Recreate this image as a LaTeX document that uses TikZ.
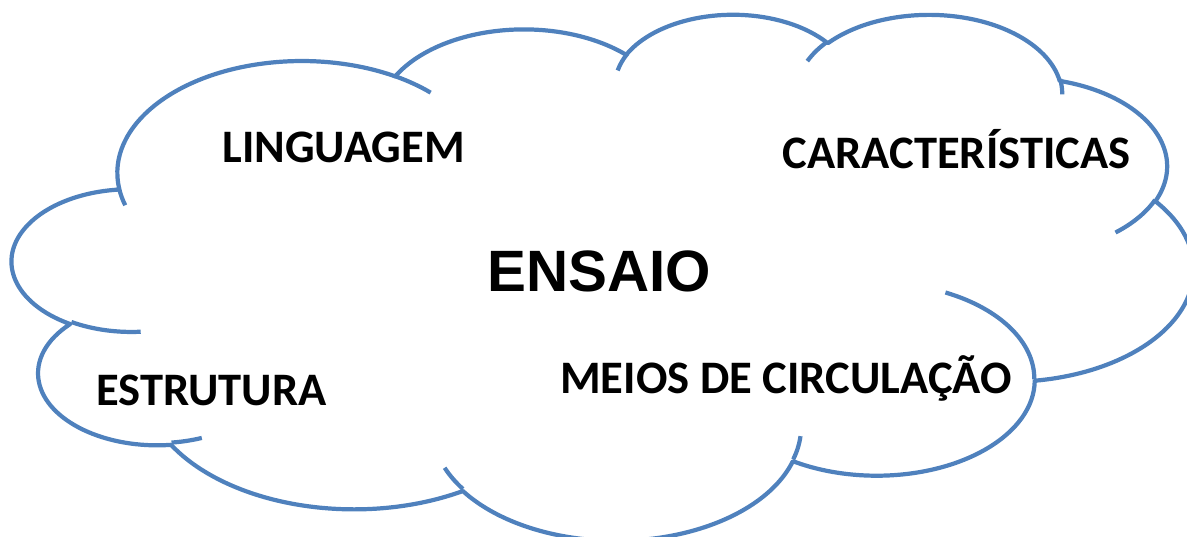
\documentclass[tikz,border=0pt]{standalone}
\usepackage{fontspec}
\newfontfamily\topicfont{Carlito}
\newfontfamily\titlefont{Liberation Sans}
\definecolor{cloudblue}{HTML}{4F81BD}

% one elliptic arc of the cloud outline: {x radius}{y radius}{start}{sweep},
% radii in the 43200 grid of the shape, angles measured as seen on the grid
\tikzset{
  cloud arc/.code n args={4}{%
    \pgfmathsetmacro\cloudta{atan2(#1*sin(#3),#2*cos(#3))}%
    \pgfmathsetmacro\cloudta{\cloudta+360*round(((#3)-(\cloudta))/360)}%
    \pgfmathsetmacro\cloudtb{atan2(#1*sin(#3+#4),#2*cos(#3+#4))}%
    \pgfmathsetmacro\cloudtb{\cloudtb+360*round(((#3+#4)-(\cloudtb))/360)}%
    \pgfmathsetmacro\cloudsa{-(\cloudta)}%
    \pgfmathsetmacro\cloudea{-(\cloudtb)}%
    \pgfmathsetmacro\cloudrx{#1/1828.96}%
    \pgfmathsetmacro\cloudry{#2/4106.46}%
    \tikzset{start angle=\cloudsa, end angle=\cloudea,
      x radius=\cloudrx cm, y radius=\cloudry cm}%
  }
}

\begin{document}
\begin{tikzpicture}[
    x=0.02cm, y=-0.02cm,
    cloud_line/.style={draw=cloudblue, line width=2.4pt, line join=round},
    topic_text/.style={font=\topicfont\bfseries\fontsize{26.5}{31}\selectfont, anchor=base, inner sep=0pt},
    title_text/.style={font=\titlefont\bfseries\fontsize{33.2}{39}\selectfont, anchor=base, inner sep=0pt}
]
\useasboundingbox (0,0) rectangle (1187,537);

% Cloud outline
\draw[cloud_line] (119.02,187.97)
    arc[cloud arc={6753}{9190}{-190.48748}{123.78053}]
    arc[cloud arc={5333}{7267}{-144.10238}{89.94523}]
    arc[cloud arc={4365}{5945}{-145.80792}{99.72302}]
    arc[cloud arc={4857}{6595}{-130.98607}{117.24173}]
    arc[cloud arc={5333}{7273}{-78.70888}{109.02692}]
    arc[cloud arc={6775}{9220}{-46.26725}{130.26900}]
    arc[cloud arc={5785}{7867}{0.62502}{114.03333}]
    arc[cloud arc={6752}{9215}{22.45160}{115.17255}]
    arc[cloud arc={7720}{10543}{66.24263}{75.71102}]
    arc[cloud arc={4360}{5918}{-274.94208}{146.73557}]
    arc[cloud arc={4345}{5945}{-246.82850}{152.51885}]
    -- cycle;

% Inner strokes between the bumps
\foreach \px/\py/\rw/\rh/\st/\sw in {
    140.70/331.73/4345/5945/86.74200/26.42950,
    201.80/437.93/4360/5918/73.61047/11.44747,
    462.88/488.96/6752/9215/137.62415/14.08110,
    800.48/436.13/6752/9215/6.45327/15.99835,
    945.43/292.49/5785/7867/-70.29235/70.91737,
    1155.07/199.95/5333/7273/30.31803/27.75150,
    1060.10/79.07/4857/6595/-13.74433/14.85890,
    807.33/61.12/4857/6595/-149.18145/18.19537,
    617.69/70.47/4365/5945/-163.49427/17.68635,
    395.13/76.22/6753/9190/-66.70695/12.31935,
    125.22/205.25/6753/9190/157.65435/11.85817}
    \draw[cloud_line] (\px,\py) arc[cloud arc={\rw}{\rh}{\st}{\sw}];

% Labels
\node[title_text] (ensaio) at (599,291.5) {ENSAIO};
\node[topic_text] (lang) at (343.5,162) {LINGUAGEM};
\node[topic_text] (carac) at (956.5,168.5) {CARACTERÍSTICAS};
\node[topic_text] (estrut) at (211.5,405.5) {ESTRUTURA};
\node[topic_text] (meios) at (786,393.5) {MEIOS DE CIRCULAÇÃO};

\end{tikzpicture}
\end{document}
